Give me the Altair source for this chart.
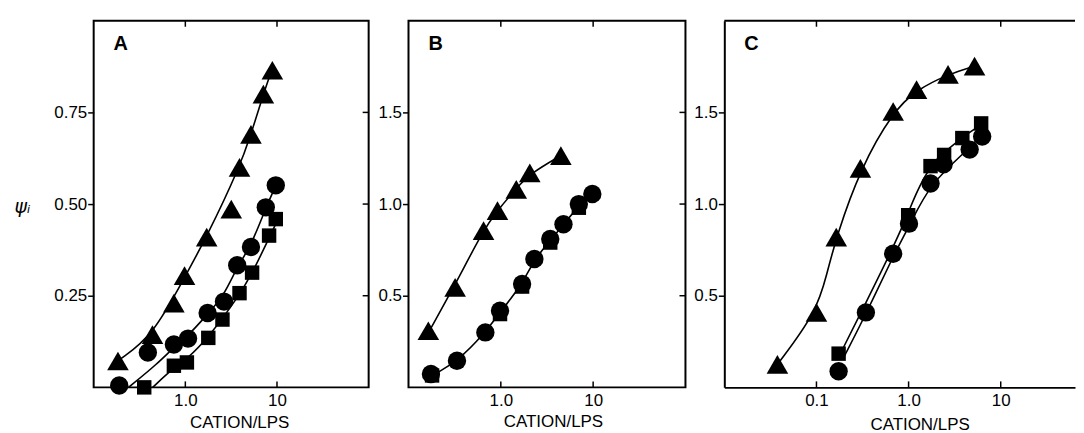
import altair as alt
import pandas as pd

# ---------------- data ----------------
# Panel A
a_tri_x = [0.184, 0.438, 0.75, 0.98, 1.71, 3.17, 3.9, 5.2, 7.1, 8.9]
a_tri_y = [0.072, 0.144, 0.23, 0.305, 0.41, 0.486, 0.60, 0.69, 0.80, 0.865]
a_cir_x = [0.19, 0.39, 0.75, 1.07, 1.75, 2.64, 3.68, 5.2, 7.55, 9.7]
a_cir_y = [0.005, 0.095, 0.117, 0.133, 0.203, 0.234, 0.333, 0.383, 0.491, 0.551]
a_sq_x = [0.356, 0.75, 1.04, 1.78, 2.54, 3.9, 5.35, 8.2, 9.7]
a_sq_y = [0.0, 0.059, 0.068, 0.135, 0.185, 0.257, 0.313, 0.414, 0.459]
# fitted curves, panel A
a_tri_cx = [0.19, 0.44, 0.98, 1.71, 3.9, 5.2, 7.1, 8.9]
a_tri_cy = [0.075, 0.14, 0.30, 0.41, 0.60, 0.69, 0.80, 0.87]
a_cir_cx = [0.24, 0.5, 0.75, 1.07, 1.75, 2.64, 3.68, 5.2, 7.55, 9.7]
a_cir_cy = [0.0, 0.065, 0.11, 0.14, 0.2, 0.25, 0.33, 0.385, 0.49, 0.55]
a_sq_cx = [0.44, 0.75, 1.04, 1.78, 3.9, 5.35, 9.7]
a_sq_cy = [0.0, 0.054, 0.077, 0.135, 0.252, 0.31, 0.446]

# Panel B
b_tri_x = [0.164, 0.32, 0.65, 0.92, 1.47, 2.06, 4.47]
b_tri_y = [0.309, 0.545, 0.855, 0.964, 1.08, 1.17, 1.264]
b_cir_x = [0.175, 0.335, 0.68, 0.98, 1.70, 2.31, 3.43, 4.77, 7.0, 9.8]
b_cir_y = [0.073, 0.145, 0.30, 0.418, 0.564, 0.70, 0.81, 0.89, 1.0, 1.055]
b_sq_x = [0.18, 0.98, 1.7, 3.43, 7.0]
b_sq_y = [0.065, 0.40, 0.55, 0.79, 0.98]
b_tri_cx = [0.165, 0.32, 0.65, 0.92, 1.47, 2.06, 4.5]
b_tri_cy = [0.30, 0.56, 0.86, 0.965, 1.085, 1.165, 1.265]
b_cir_cx = [0.19, 0.335, 0.68, 0.98, 1.7, 2.31, 3.43, 4.77, 7.0, 9.8]
b_cir_cy = [0.07, 0.14, 0.30, 0.41, 0.56, 0.70, 0.80, 0.89, 0.99, 1.05]

# Panel C
c_tri_x = [0.0377, 0.1, 0.164, 0.30, 0.68, 1.22, 2.68, 5.2]
c_tri_y = [0.125, 0.409, 0.82, 1.195, 1.505, 1.624, 1.707, 1.752]
c_sq_x = [0.174, 0.99, 1.73, 2.43, 3.83, 6.13]
c_sq_y = [0.184, 0.939, 1.207, 1.268, 1.36, 1.44]
c_cir_x = [0.174, 0.344, 0.68, 1.01, 1.73, 2.40, 4.6, 6.29]
c_cir_y = [0.088, 0.409, 0.729, 0.893, 1.112, 1.217, 1.297, 1.368]
c_tri_cx = [0.0377, 0.1, 0.13, 0.164, 0.30, 0.68, 1.22, 2.68, 5.2]
c_tri_cy = [0.125, 0.409, 0.62, 0.82, 1.195, 1.505, 1.624, 1.707, 1.752]
c_sq_cx = [0.18, 0.338, 0.683, 0.99, 1.56, 3.89, 6.4]
c_sq_cy = [0.18, 0.454, 0.765, 0.948, 1.204, 1.368, 1.44]
c_cir_cx = [0.197, 0.352, 0.683, 1.03, 1.70, 4.59, 6.4]
c_cir_cy = [0.162, 0.409, 0.719, 0.884, 1.112, 1.304, 1.386]

# axis ticks / labels
a_ytick_vals = [0.25, 0.5, 0.75]
bc_ytick_vals = [0.5, 1.0, 1.5]
ab_xtick_vals = [1, 10]
ab_xtick_labels = ["1.0", "10"]
c_xtick_vals = [0.1, 1, 10]
c_xtick_labels = ["0.1", "1.0", "10"]
panel_letters = ["A", "B", "C"]
x_title = "CATION/LPS"
y_title = "ψᵢ"

FONT = "Liberation Sans"
H = 368


def pts(series, xs, ys):
    return pd.DataFrame({"x": xs, "y": ys, "s": [series] * len(xs)})


def label_expr(vals, labels):
    parts = " : ".join(
        f"datum.value == {v} ? '{l}'" for v, l in zip(vals, labels)
    )
    return parts + " : ''"


def panel(points, curves, xdom, ydom, width, ytick_vals, yfmt, xtick_vals,
          xtick_labels, letter, ytitle=None, title_x=None, title_y=34,
          frame=True, right_ticks=True):
    xs = alt.Scale(type="log", domain=xdom, nice=False)
    ys = alt.Scale(domain=ydom, nice=False, zero=False)
    yaxis_kw = dict(values=ytick_vals, format=yfmt, grid=False, domain=not frame,
                    domainWidth=2, domainColor="black",
                    tickSize=6, tickWidth=1.5, tickColor="black",
                    labelFont=FONT, labelFontSize=17, labelPadding=1,
                    labelColor="black", minExtent=28, maxExtent=28)
    if ytitle:
        yaxis_kw.update(title=ytitle, titleAngle=0, titleAlign="right",
                        titleBaseline="middle", titleX=-64, titleY=H / 2 + 2,
                        titleFont="DejaVu Sans", titleFontSize=19,
                        titleFontStyle="italic", titleFontWeight="normal",
                        titleColor="black")
    else:
        yaxis_kw.update(title=None)
    xaxis = alt.Axis(values=xtick_vals, labelExpr=label_expr(xtick_vals, xtick_labels),
                     grid=False, ticks=False, domain=not frame, domainWidth=2,
                     domainColor="black",
                     labelFont=FONT, labelFontSize=17, labelPadding=5,
                     labelColor="black", labelFlush=False,
                     title=x_title, titleFont=FONT, titleFontSize=17,
                     titleFontWeight="normal", titleColor="black",
                     titleX=title_x, titleY=title_y, titleBaseline="middle",
                     titleAlign="center")
    shape_scale = alt.Scale(domain=["tri", "cir", "sq"],
                            range=["triangle-up", "circle", "square"])
    size_scale = alt.Scale(domain=["tri", "cir", "sq"], range=[470, 210, 155])

    line = alt.Chart(curves).mark_line(
        color="black", strokeWidth=1.6, interpolate="basis"
    ).encode(
        x=alt.X("x:Q", scale=xs, axis=xaxis),
        y=alt.Y("y:Q", scale=ys, axis=alt.Axis(**yaxis_kw)),
        detail="s:N",
    )
    points_layer = alt.Chart(points).mark_point(
        filled=True, color="black", opacity=1
    ).encode(
        x=alt.X("x:Q", scale=xs),
        y=alt.Y("y:Q", scale=ys),
        shape=alt.Shape("s:N", scale=shape_scale, legend=None),
        size=alt.Size("s:N", scale=size_scale, legend=None),
    )
    xt = pd.DataFrame({"x": xtick_vals})
    top_ticks = alt.Chart(xt).mark_rule(color="black", strokeWidth=1.5).encode(
        x=alt.X("x:Q", scale=xs), y=alt.value(0), y2=alt.value(6))
    bot_ticks = alt.Chart(xt).mark_rule(color="black", strokeWidth=1.5).encode(
        x=alt.X("x:Q", scale=xs), y=alt.value(H), y2=alt.value(H - 6))
    layers = [line, points_layer, top_ticks, bot_ticks]
    if right_ticks:
        yt = pd.DataFrame({"y": ytick_vals})
        layers.append(alt.Chart(yt).mark_rule(color="black", strokeWidth=1.5).encode(
            y=alt.Y("y:Q", scale=ys), x=alt.value(width - 6), x2=alt.value(width)))
    else:
        # top frame line only (right side runs off the page)
        layers.append(alt.Chart(pd.DataFrame({"y": [ydom[1]]})).mark_rule(
            color="black", strokeWidth=2).encode(
            y=alt.Y("y:Q", scale=ys), x=alt.value(0), x2=alt.value(width)))
    layers.append(alt.Chart(pd.DataFrame({"t": [letter]})).mark_text(
        font=FONT, fontSize=20, fontWeight="bold", color="black",
        align="left", baseline="middle").encode(
        text="t:N", x=alt.value(20), y=alt.value(23)))
    view = alt.ViewBackground(stroke="black", strokeWidth=2) if frame else \
        alt.ViewBackground(stroke=None)
    return alt.layer(*layers).properties(width=width, height=H, view=view)


A = panel(
    pd.concat([pts("tri", a_tri_x, a_tri_y), pts("cir", a_cir_x, a_cir_y),
               pts("sq", a_sq_x, a_sq_y)]),
    pd.concat([pts("tri", a_tri_cx, a_tri_cy), pts("cir", a_cir_cx, a_cir_cy),
               pts("sq", a_sq_cx, a_sq_cy)]),
    [0.1, 100], [0, 1.0], 276, a_ytick_vals, ".2f", ab_xtick_vals, ab_xtick_labels,
    panel_letters[0], ytitle=y_title, title_x=146, title_y=35,
)
B = panel(
    pd.concat([pts("tri", b_tri_x, b_tri_y), pts("sq", b_sq_x, b_sq_y),
               pts("cir", b_cir_x, b_cir_y)]),
    pd.concat([pts("tri", b_tri_cx, b_tri_cy), pts("cir", b_cir_cx, b_cir_cy)]),
    [0.1, 100], [0, 2.0], 278, bc_ytick_vals, ".1f", ab_xtick_vals, ab_xtick_labels,
    panel_letters[1], title_x=145, title_y=34,
)
C = panel(
    pd.concat([pts("tri", c_tri_x, c_tri_y), pts("sq", c_sq_x, c_sq_y),
               pts("cir", c_cir_x, c_cir_y)]),
    pd.concat([pts("tri", c_tri_cx, c_tri_cy), pts("sq", c_sq_cx, c_sq_cy),
               pts("cir", c_cir_cx, c_cir_cy)]),
    [0.01, 64], [0, 2.0], 352, bc_ytick_vals, ".1f", c_xtick_vals, c_xtick_labels,
    panel_letters[2], title_x=196, title_y=37, frame=False, right_ticks=False,
)

chart = alt.hconcat(A, B, C, spacing=6).properties(
    padding={"left": 5, "top": 10, "right": 0, "bottom": 0}
).configure(background="white").configure_concat(spacing=6)

chart.save("out.html", embed_options={"renderer": "svg", "actions": False})
